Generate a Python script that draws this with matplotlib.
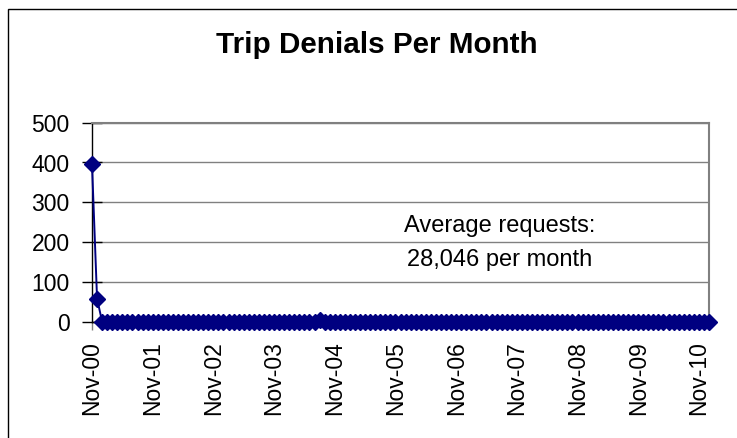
import matplotlib
matplotlib.use("Agg")
import matplotlib.pyplot as plt
from matplotlib.patches import Rectangle

plt.rcParams['font.family'] = ['Liberation Sans', 'DejaVu Sans']

# Data: monthly trip denials, Nov-00 .. Jan-11
denials = [395, 58, 0, 0, 0, 0, 0, 0, 0, 0, 0, 0,   # Nov-00 .. Oct-01
           0, 0, 0, 0, 0, 0, 0, 0, 0, 0, 0, 0,       # Nov-01 .. Oct-02
           0, 0, 0, 0, 0, 0, 0, 0, 0, 0, 0, 0,       # Nov-02 .. Oct-03
           0, 0, 0, 0, 0, 0, 0, 0, 0, 5, 0, 0,       # Nov-03 .. Oct-04
           0, 0, 0, 0, 0, 0, 0, 0, 0, 0, 0, 0,       # Nov-04 .. Oct-05
           0, 0, 0, 0, 0, 0, 0, 0, 0, 0, 0, 0,       # Nov-05 .. Oct-06
           0, 0, 0, 0, 0, 0, 0, 0, 0, 0, 0, 0,       # Nov-06 .. Oct-07
           0, 0, 0, 0, 0, 0, 0, 0, 0, 0, 0, 0,       # Nov-07 .. Oct-08
           0, 0, 0, 0, 0, 0, 0, 0, 0, 0, 0, 0,       # Nov-08 .. Oct-09
           0, 0, 0, 0, 0, 0, 0, 0, 0, 0, 0, 0,       # Nov-09 .. Oct-10
           0, 0, 0]                                   # Nov-10 .. Jan-11
tick_labels = ['Nov-00', 'Nov-01', 'Nov-02', 'Nov-03', 'Nov-04', 'Nov-05',
               'Nov-06', 'Nov-07', 'Nov-08', 'Nov-09', 'Nov-10']
tick_months = [0, 12, 24, 36, 48, 60, 72, 84, 96, 108, 120]
y_ticks = [0, 100, 200, 300, 400, 500]
title = 'Trip Denials Per Month'
note = 'Average requests:\n28,046 per month'

W, H = 737, 438
fig = plt.figure(figsize=(W / 100, H / 100), dpi=100)
fig.patch.set_facecolor('white')

# outer chart border (cropped at right and bottom)
fig.add_artist(Rectangle((8 / W, -0.1), 1.2, 1 - 9 / H + 0.1,
                         transform=fig.transFigure, fill=False,
                         edgecolor='black', linewidth=1.0))

left, right = 92 / W, 709 / W
bottom, top = (H - 321.7) / H, (H - 122.7) / H
ax = fig.add_axes([left, bottom, right - left, top - bottom])

x = list(range(len(denials)))
ax.plot(x, denials, color='#000080', linewidth=1.4, marker='D',
        markersize=8.2, markerfacecolor='#000080', markeredgecolor='#000080',
        clip_on=False, zorder=5)

ax.set_xlim(0, len(denials) - 1)
ax.set_ylim(0, 500)
ax.set_yticks(y_ticks)
ax.set_yticklabels([str(v) for v in y_ticks], fontsize=16.5)
ax.set_xticks(tick_months)
ax.set_xticklabels(tick_labels, rotation=90, fontsize=16.5)

ax.grid(axis='y', color='#808080', linewidth=1.0)
ax.set_axisbelow(True)
for s in ['top', 'right']:
    ax.spines[s].set_color('#808080')
    ax.spines[s].set_linewidth(1.5)
for s in ['left', 'bottom']:
    ax.spines[s].set_color('black')
    ax.spines[s].set_linewidth(1.0)

ax.tick_params(axis='y', direction='inout', length=14, width=1, pad=9)
ax.tick_params(axis='x', direction='out', length=6, width=1, pad=8,
               color='#808080')

ax.text(0.661, 0.395, note, transform=ax.transAxes, ha='center', va='center',
        fontsize=17, linespacing=1.7)

fig.text(377 / W, 1 - 45 / H, title, ha='center', va='center',
         fontsize=21.3, fontweight='bold')

fig.savefig('out.png', dpi=100)
